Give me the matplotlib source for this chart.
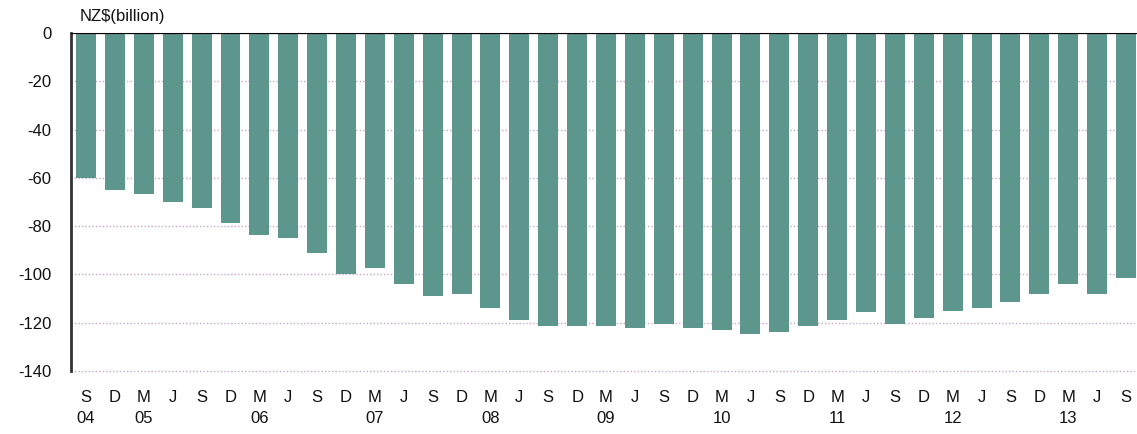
import matplotlib.pyplot as plt
import numpy as np

plt.rcParams['font.family'] = ['Liberation Sans', 'DejaVu Sans']
plt.rcParams['axes.unicode_minus'] = False

# quarterly, Sep 2004 - Sep 2013
quarters = ['S', 'D', 'M', 'J'] * 9 + ['S']
years = {0: '04', 2: '05', 6: '06', 10: '07', 14: '08', 18: '09', 22: '10', 26: '11', 30: '12', 34: '13'}
values = [-60, -65, -66.5, -70, -72.5, -78.5, -83.5, -85, -91, -100,
          -97.5, -104, -109, -108.3, -114, -119, -121.5, -121.5, -121.5, -122.3,
          -120.7, -122.3, -123.2, -124.8, -124, -121.5, -119, -115.7, -120.7, -118.2,
          -115, -114, -111.6, -108.3, -104, -108.3, -101.6]

labels = [q + ('\n' + years[i] if i in years else '') for i, q in enumerate(quarters)]
x = np.arange(len(values))

fig = plt.figure(figsize=(11.37, 4.34), dpi=100)
ax = fig.add_axes([71 / 1137, 63 / 434, 1066 / 1137, 338 / 434])

ax.bar(x, values, width=0.69, color='#5c968d', zorder=2)

ax.set_ylim(-140, 0)
ax.set_yticks(range(-140, 1, 20))
ax.set_xlim(-0.52, len(values) - 0.62)
ax.set_xticks(x)
ax.set_xticklabels(labels, linespacing=1.45)

ax.grid(axis='y', color='#c9a6cf', linestyle=(0, (1, 1.5)), linewidth=1, zorder=0)
for gl in ax.get_ygridlines():
    gl.set_clip_on(False)
ax.axhline(0, color='black', linewidth=1.6, zorder=3)

for s in ['top', 'right', 'bottom']:
    ax.spines[s].set_visible(False)
ax.spines['left'].set_color('#333333')
ax.spines['left'].set_linewidth(2)

ax.tick_params(axis='both', length=0, labelsize=12, colors='#111111')
ax.tick_params(axis='y', pad=14)
ax.tick_params(axis='x', pad=14)

fig.text(80 / 1137, 1 - 17 / 434, 'NZ$(billion)', fontsize=12, va='center', ha='left', color='#111111')

fig.savefig('out.png', dpi=100)
